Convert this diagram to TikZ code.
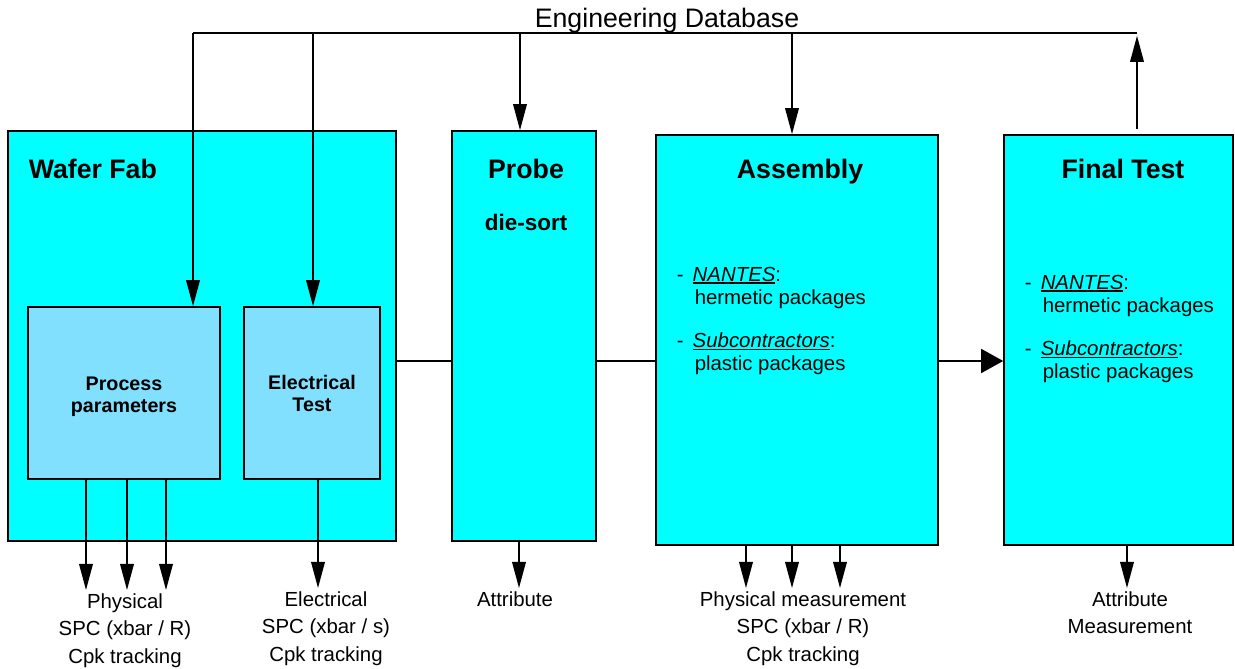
\documentclass[tikz,border=0pt]{standalone}
\usepackage{fontspec}
\setmainfont{Liberation Sans}
\usepackage{tikz}
\usetikzlibrary{arrows.meta,positioning}
\definecolor{stagecyan}{RGB}{0,255,255}
\definecolor{subblue}{RGB}{130,224,255}
\newcommand{\thickul}[1]{\setbox0=\hbox{#1}\rlap{\rule[-2pt]{\wd0}{1.3pt}}\box0}

\begin{document}
\begin{tikzpicture}[x=0.025cm, y=-0.025cm, line width=1.1pt,
    >={Triangle[length=0.65cm,width=0.34cm]},
    stage/.style={draw, fill=stagecyan, inner sep=0pt},
    subbox/.style={draw, fill=subblue, inner sep=0pt, align=center,
      font=\fontsize{14}{15.6}\selectfont\bfseries},
    title/.style={inner sep=0pt, font=\fontsize{19}{22}\selectfont\bfseries},
    note/.style={inner sep=0pt, align=left, anchor=north west,
      font=\fontsize{14.5}{16.4}\selectfont},
    outlbl/.style={inner sep=2pt, align=center, anchor=north,
      font=\fontsize{14.5}{19.5}\selectfont}]
        \useasboundingbox (0,0) rectangle (1235,669);

        % stages
        \node[stage, minimum width=9.7cm, minimum height=10.25cm] (fab) at (202,336) {};
        \node[stage, minimum width=3.6cm, minimum height=10.25cm] (probe) at (524,336) {};
        \node[stage, minimum width=7.05cm, minimum height=10.25cm] (asm) at (797,340) {};
        \node[stage, minimum width=5.725cm, minimum height=10.25cm] (final) at (1118.5,340) {};

        % inside wafer fab
        \node[subbox, minimum width=4.8cm, minimum height=4.3cm] (pp) at (124,393) {\rule{0pt}{15pt}Process\\parameters};
        \node[subbox, minimum width=3.4cm, minimum height=4.3cm] (et) at (312,393) {Electrical\\Test};

        % titles
        \node[title, anchor=base west] (fabT) at (28,179) {Wafer Fab};
        \node[title, anchor=base] (probeT) at (526,179) {Probe};
        \node[title, anchor=base, font=\fontsize{16}{19}\selectfont\bfseries] (sortT) at (526,231) {die-sort};
        \node[title, anchor=base] (asmT) at (800,179) {Assembly};
        \node[title, anchor=base] (finalT) at (1123,179) {Final Test};
        \node[anchor=base, inner sep=0pt, font=\fontsize{19}{22}\selectfont] (db) at (667,28) {Engineering Database};

        % package notes
        \node[note] (asmA) at (676,266) {-\hspace{0.45em}\thickul{\textit{NANTES}}:\\\hspace*{12.8pt}hermetic packages};
        \node[note] (asmB) at (676,332) {-\hspace{0.45em}\thickul{\textit{Subcontractors}}:\\\hspace*{12.8pt}plastic packages};
        \node[note] (finalA) at (1024,274) {-\hspace{0.45em}\thickul{\textit{NANTES}}:\\\hspace*{12.8pt}hermetic packages};
        \node[note] (finalB) at (1024,340) {-\hspace{0.45em}\thickul{\textit{Subcontractors}}:\\\hspace*{12.8pt}plastic packages};

        % outputs
        \node[outlbl] (phys) at (125,590) {Physical\\SPC (xbar / R)\\Cpk tracking};
        \node[outlbl] (elec) at (326,588) {Electrical\\SPC (xbar / s)\\Cpk tracking};
        \node[outlbl] (attr) at (515,588) {Attribute};
        \node[outlbl] (pmeas) at (803,588) {Physical measurement\\SPC (xbar / R)\\Cpk tracking};
        \node[outlbl] (attrm) at (1130,588) {Attribute\\Measurement};

        % database bus
        \coordinate (busL) at (193,33);
        \coordinate (busET) at (313,33);
        \coordinate (busPr) at (520,33);
        \coordinate (busAs) at (792,33);
        \coordinate (busR) at (1137,33);
        \draw (busL) -- (busR);
        \draw[->] (busL) -- (busL |- pp.north);
        \draw[->] (busET) -- (busET |- et.north);
        \draw[->] (busPr) -- (busPr |- probe.north);
        \draw[->] (busAs) -- (busAs |- asm.north);
        \draw[->, shorten <=4pt, shorten >=2pt] (busR |- final.north) -- (busR);

        % flow between stages
        \coordinate (flow) at (0,361);
        \draw (fab.east |- flow) -- (probe.west |- flow);
        \draw (probe.east |- flow) -- (asm.west |- flow);
        \draw[-{Triangle[length=0.55cm,width=0.6cm]}] (asm.east |- flow) -- (final.west |- flow);

        % data out
        \foreach \x in {86,127,166}
          \draw[->] (pp.south -| \x,0) -- (phys.north -| \x,0);
        \draw[->] (et.south -| 318,0) -- (elec.north -| 318,0);
        \draw[->] (probe.south -| 519,0) -- (attr.north -| 519,0);
        \foreach \x in {746,792,840}
          \draw[->] (asm.south -| \x,0) -- (pmeas.north -| \x,0);
        \draw[->] (final.south -| 1127,0) -- (attrm.north -| 1127,0);
\end{tikzpicture}
\end{document}
